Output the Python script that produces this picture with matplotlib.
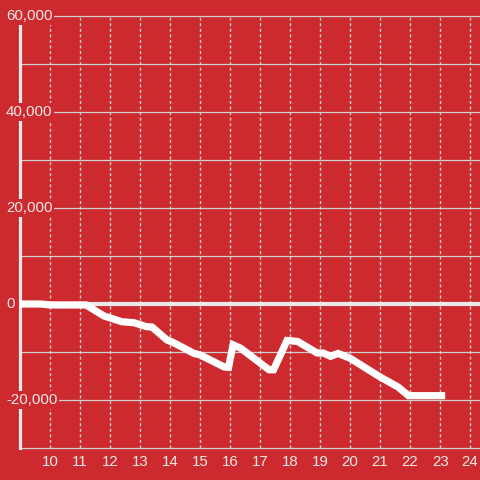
import matplotlib.pyplot as plt
import matplotlib.transforms as mtransforms

# values
hours = [9.0, 9.7, 10.0, 11.2, 11.8, 12.4, 12.8, 13.2, 13.4, 13.9, 14.1, 14.8, 15.0,
         15.8, 15.95, 16.1, 16.35, 17.3, 17.45, 17.9, 18.25, 18.9, 19.1, 19.35,
         19.6, 20.0, 21.0, 21.6, 21.95, 23.17]
balance = [0, 0, -200, -200, -2500, -3700, -3900, -4700, -4800, -7500, -8000, -10300,
           -10600, -13100, -13200, -8500, -9200, -13700, -13700, -7600, -7800, -10200,
           -10200, -10900, -10300, -11300, -15200, -17300, -19100, -19100]
x_ticks = list(range(10, 25))
y_labels = [60000, 40000, 20000, 0, -20000]
y_grid = list(range(-30000, 60001, 10000))

BG = "#cc2a2e"
FG = "#f2eaea"
GRID = "#d0d0d0"

plt.rcParams['font.family'] = ['Liberation Sans', 'DejaVu Sans']

fig = plt.figure(figsize=(4.8, 4.8), dpi=100, facecolor=BG)
ax = fig.add_axes([20 / 480, 32 / 480, 460 / 480, 432 / 480], facecolor=BG)
ax.set_xlim(9, 24.33)
ax.set_ylim(-30000, 60000)

# grid
for v in y_grid:
    if v != 0:
        ax.axhline(v, color=GRID, lw=0.9, zorder=1, clip_on=False)
for x in x_ticks:
    ax.axvline(x, color=GRID, lw=1.0, ls=(0, (2.2, 1.8)), zorder=1)
ax.axhline(0, color=FG, lw=3, zorder=2)

# data
ax.plot(hours, balance, color="white", lw=5.2, solid_joinstyle='miter',
        solid_capstyle='butt', zorder=4)

# axes
for s in ['top', 'right', 'bottom']:
    ax.spines[s].set_visible(False)
ax.spines['left'].set_color(FG)
ax.spines['left'].set_linewidth(2.3)
ax.spines['left'].set_zorder(2.5)

ax.set_yticks([])
ax.set_xticks(x_ticks)
ax.tick_params(axis='x', length=0, pad=5, labelsize=10.8, labelcolor=FG)

trans = mtransforms.blended_transform_factory(fig.transFigure, ax.transData)
for v in y_labels:
    ax.text(6 / 480, v, f"{v:,}", transform=trans, ha='left', va='center',
            fontsize=10.8, color=FG, zorder=3,
            bbox=dict(facecolor=BG, edgecolor='none', pad=1.2), clip_on=False)

fig.savefig("out.png", dpi=100, facecolor=BG)
